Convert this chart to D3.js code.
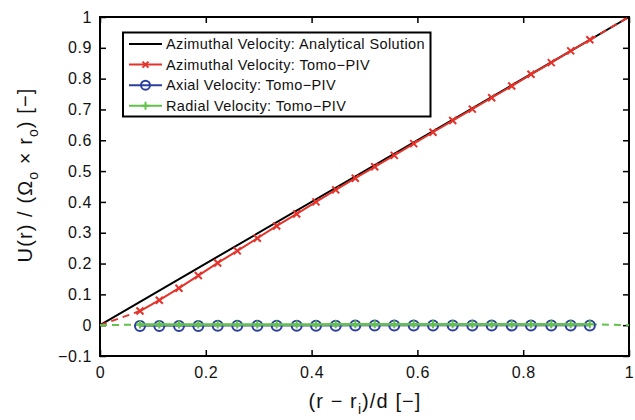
<!DOCTYPE html>
<html>
<head>
<meta charset="utf-8">
<script src="https://cdn.jsdelivr.net/npm/d3@7"></script>
<style>
body { margin: 0; background: #fff; }
text { font-family: "Liberation Sans", Arial, sans-serif; }
</style>
</head>
<body>
<svg id="chart" width="635" height="420"></svg>
<script>
// measured positions along the gap, shared by the three Tomo-PIV series
var xs = [0.0756, 0.1121, 0.1493, 0.1858, 0.2225, 0.2595, 0.2974, 0.3340, 0.3718, 0.4083, 0.4456, 0.4826,
          0.5193, 0.5563, 0.5930, 0.6295, 0.6667, 0.7038, 0.7404, 0.7783, 0.8147, 0.8531, 0.8898, 0.9260];
var azimuthal = [0.046, 0.081, 0.120, 0.161, 0.202, 0.241, 0.282, 0.322, 0.361, 0.400, 0.439, 0.477,
                 0.514, 0.551, 0.589, 0.626, 0.664, 0.701, 0.738, 0.776, 0.814, 0.852, 0.890, 0.926];
var axial = [-0.003, -0.003, -0.003, -0.003, -0.002, -0.002, -0.002, -0.002, -0.002, -0.002, -0.002, -0.001,
             -0.001, -0.001, -0.001, -0.001, -0.001, -0.001, -0.001, -0.001, -0.001, -0.001, -0.001, -0.001];
var radial = [0.002, 0.002, 0.002, 0.002, 0.002, 0.002, 0.002, 0.002, 0.002, 0.002, 0.003, 0.003,
              0.003, 0.003, 0.003, 0.003, 0.003, 0.003, 0.003, 0.003, 0.003, 0.003, 0.003, 0.003];
var analytical = [[0, 0], [1, 1]];
var xTicks = [0, 0.2, 0.4, 0.6, 0.8, 1];
var yTicks = [-0.1, 0, 0.1, 0.2, 0.3, 0.4, 0.5, 0.6, 0.7, 0.8, 0.9, 1];
var legendLabels = ["Azimuthal Velocity: Analytical Solution", "Azimuthal Velocity: Tomo\u2212PIV",
                    "Axial Velocity: Tomo\u2212PIV", "Radial Velocity: Tomo\u2212PIV"];

var red = "#e4332a", blue = "#2c3f9e", green = "#62c24c";

var svg = d3.select("#chart");
var L = 100, R = 629, T = 17, B = 356;
var x = d3.scaleLinear().domain([0, 1]).range([L, R]);
var y = d3.scaleLinear().domain([-0.1, 1]).range([B, T]);
var line = d3.line().x(function(d) { return x(d[0]); }).y(function(d) { return y(d[1]); });
var fmt = function(d) { return d === 0 || d === 1 ? String(d) : d3.format(".1f")(d).replace("-", "\u2212"); };

// axes, ticks inward on all sides
var tl = 6;
svg.append("g").attr("transform", "translate(0," + B + ")")
  .call(d3.axisBottom(x).tickValues(xTicks).tickSize(-tl).tickPadding(11).tickFormat(fmt));
svg.append("g").attr("transform", "translate(0," + T + ")")
  .call(d3.axisTop(x).tickValues(xTicks).tickSize(-tl).tickFormat(""));
svg.append("g").attr("transform", "translate(" + L + ",0)")
  .call(d3.axisLeft(y).tickValues(yTicks).tickSize(-tl).tickPadding(8).tickFormat(fmt));
svg.append("g").attr("transform", "translate(" + R + ",0)")
  .call(d3.axisRight(y).tickValues(yTicks).tickSize(-tl).tickFormat(""));
svg.selectAll(".domain").remove();
svg.selectAll(".tick line").attr("stroke", "#000").attr("stroke-width", 1.5);
svg.selectAll(".tick text").attr("font-size", 16).attr("fill", "#111").attr("letter-spacing", 0.6)
   .style("font-family", "Liberation Sans, Arial, sans-serif");
svg.append("rect").attr("x", L).attr("y", T).attr("width", R - L).attr("height", B - T)
  .attr("fill", "none").attr("stroke", "#000").attr("stroke-width", 2);

var plot = svg.append("g");

function series(vals) { return xs.map(function(d, i) { return [d, vals[i]]; }); }
var az = series(azimuthal), ax = series(axial), ra = series(radial);

// analytical
plot.append("path").attr("d", line(analytical)).attr("fill", "none").attr("stroke", "#000").attr("stroke-width", 2);

// dashed extensions to the walls
function ext(pts, end) {
  plot.append("path").attr("d", line([[0, 0], pts[0]])).attr("fill", "none")
    .attr("stroke", end.c).attr("stroke-width", 2).attr("stroke-dasharray", "7,5");
  plot.append("path").attr("d", line([pts[pts.length - 1], [1, end.v]])).attr("fill", "none")
    .attr("stroke", end.c).attr("stroke-width", 2).attr("stroke-dasharray", "7,5");
}
ext(az, { c: red, v: 1 });
ext(ra, { c: green, v: 0 });

// axial
plot.append("path").attr("d", line(ax)).attr("fill", "none").attr("stroke", blue).attr("stroke-width", 2).attr("opacity", 0.6);
plot.selectAll(".circ").data(ax).enter().append("circle")
  .attr("cx", function(d) { return x(d[0]); }).attr("cy", function(d) { return y(d[1]); })
  .attr("r", 5).attr("fill", "none").attr("stroke", blue).attr("stroke-width", 2);

// radial
plot.append("path").attr("d", line(ra)).attr("fill", "none").attr("stroke", green).attr("stroke-width", 2.5);
var ps = 4;
plot.selectAll(".plus").data(ra).enter().append("path")
  .attr("d", function(d) {
    var cx = x(d[0]), cy = y(d[1]);
    return "M" + (cx - ps) + "," + cy + "H" + (cx + ps) + "M" + cx + "," + (cy - ps) + "V" + (cy + ps);
  })
  .attr("stroke", green).attr("stroke-width", 2);

// azimuthal Tomo-PIV
plot.append("path").attr("d", line(az)).attr("fill", "none").attr("stroke", red).attr("stroke-width", 2);
var xsz = 3.5;
plot.selectAll(".cross").data(az).enter().append("path")
  .attr("d", function(d) {
    var cx = x(d[0]), cy = y(d[1]);
    return "M" + (cx - xsz) + "," + (cy - xsz) + "L" + (cx + xsz) + "," + (cy + xsz) +
           "M" + (cx - xsz) + "," + (cy + xsz) + "L" + (cx + xsz) + "," + (cy - xsz);
  })
  .attr("stroke", red).attr("stroke-width", 2);

// legend
var lg = svg.append("g");
lg.append("rect").attr("x", 123).attr("y", 32.5).attr("width", 307.5).attr("height", 84)
  .attr("fill", "#fff").attr("stroke", "#000").attr("stroke-width", 2);
var lcol = ["#000", red, blue, green];
legendLabels.forEach(function(t, i) {
  var yy = 44 + i * 20.6, x0 = 129, x1 = 162, xm = (x0 + x1) / 2;
  lg.append("line").attr("x1", x0).attr("x2", x1).attr("y1", yy).attr("y2", yy)
    .attr("stroke", lcol[i]).attr("stroke-width", 2);
  if (i === 1) {
    lg.append("path").attr("d", "M" + (xm - 3) + "," + (yy - 3) + "L" + (xm + 3) + "," + (yy + 3) +
      "M" + (xm - 3) + "," + (yy + 3) + "L" + (xm + 3) + "," + (yy - 3)).attr("stroke", red).attr("stroke-width", 2);
  } else if (i === 2) {
    lg.append("circle").attr("cx", xm).attr("cy", yy).attr("r", 4.5).attr("fill", "none")
      .attr("stroke", blue).attr("stroke-width", 2);
  } else if (i === 3) {
    lg.append("path").attr("d", "M" + (xm - 4) + "," + yy + "H" + (xm + 4) + "M" + xm + "," + (yy - 4) + "V" + (yy + 4))
      .attr("stroke", green).attr("stroke-width", 2);
  }
  lg.append("text").attr("x", 166).attr("y", yy + 5).attr("font-size", 14.5).attr("letter-spacing", 0.4)
    .attr("fill", "#111").text(t);
});

// axis titles
var xt = svg.append("text").attr("x", 365).attr("y", 408).attr("text-anchor", "middle")
  .attr("font-size", 20).attr("letter-spacing", 1.1).attr("fill", "#111");
xt.append("tspan").text("(r \u2212 r");
xt.append("tspan").attr("font-size", 14).attr("dy", 6).text("i");
xt.append("tspan").attr("dy", -6).text(")/d [\u2212]");

var yt = svg.append("text").attr("transform", "translate(32,175) rotate(-90)").attr("text-anchor", "middle")
  .attr("font-size", 20).attr("letter-spacing", 1.1).attr("fill", "#111");
yt.append("tspan").text("U(r) / (\u03a9");
yt.append("tspan").attr("font-size", 14).attr("dy", 6).text("o");
yt.append("tspan").attr("dy", -6).text(" \u00d7 r");
yt.append("tspan").attr("font-size", 14).attr("dy", 6).text("o");
yt.append("tspan").attr("dy", -6).text(") [\u2212]");
</script>
</body>
</html>
